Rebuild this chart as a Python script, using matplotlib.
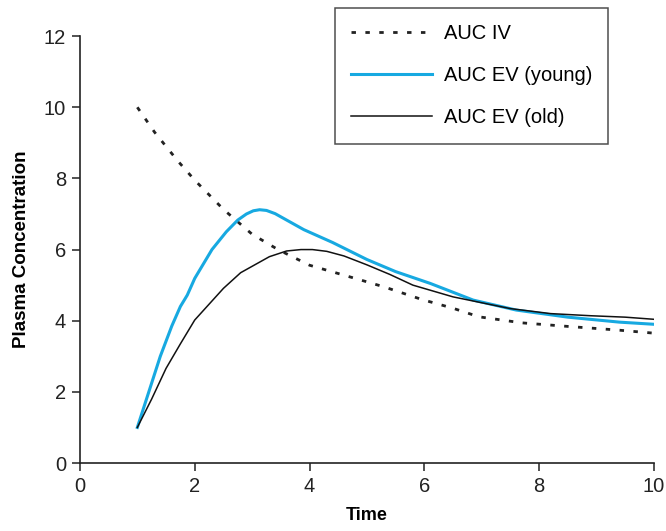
import numpy as np
import matplotlib

matplotlib.use("Agg")
import matplotlib.pyplot as plt

plt.rcParams["font.family"] = ["Liberation Sans", "DejaVu Sans"]

# values
iv_t = [1.0, 1.3, 1.7, 2.0, 2.5, 3.0, 3.45, 4.0, 4.3, 4.9, 5.3, 5.95, 6.5, 6.95, 7.7, 8.5, 9.35, 10.0]
iv_c = [10.0, 9.3, 8.5, 7.95, 7.13, 6.43, 6.0, 5.56, 5.42, 5.14, 4.95, 4.6, 4.35, 4.11, 3.94, 3.84, 3.74, 3.65]

young_t = [1.0, 1.2, 1.4, 1.6, 1.75, 1.87, 2.0, 2.3, 2.55, 2.75, 2.9, 3.02, 3.13, 3.25, 3.4, 3.6, 3.9, 4.4,
           5.0, 5.5, 6.1, 6.85, 7.6, 8.5, 9.4, 10.0]
young_c = [1.0, 2.0, 3.0, 3.85, 4.4, 4.72, 5.19, 6.0, 6.5, 6.83, 7.0, 7.09, 7.12, 7.1, 7.01, 6.83, 6.56, 6.2,
           5.72, 5.38, 5.05, 4.58, 4.3, 4.1, 3.96, 3.9]

old_t = [1.0, 1.25, 1.5, 1.75, 2.0, 2.5, 2.8, 3.3, 3.6, 3.85, 4.05, 4.3, 4.6, 5.0, 5.4, 5.8, 6.5, 7.5, 8.2, 8.9, 9.5, 10.0]
old_c = [1.0, 1.8, 2.66, 3.35, 4.02, 4.91, 5.35, 5.8, 5.96, 6.0, 6.0, 5.95, 5.82, 5.57, 5.3, 5.0, 4.67, 4.34, 4.2, 4.14, 4.1, 4.04]

labels = ["AUC IV", "AUC EV (young)", "AUC EV (old)"]

fig = plt.figure(figsize=(6.66, 5.31), dpi=100)
ax = fig.add_axes([0.120, 0.128, 0.862, 0.804])

ax.plot(iv_t, iv_c, color="#222222", linewidth=2.0, dashes=(1.6, 3.4), label=labels[0])
ax.plot(young_t, young_c, color="#17a9e1", linewidth=2.2, label=labels[1])
ax.plot(old_t, old_c, color="#111111", linewidth=1.1, label=labels[2])

ax.set_xlim(0, 10)
ax.set_ylim(0, 12)
ax.set_xticks([0, 2, 4, 6, 8, 10])
ax.set_yticks([0, 2, 4, 6, 8, 10, 12])
for side in ["top", "right"]:
    ax.spines[side].set_visible(False)
for side in ["left", "bottom"]:
    ax.spines[side].set_linewidth(1.2)
    ax.spines[side].set_color("#222222")
ax.tick_params(direction="out", length=6, width=1.1, labelsize=14.5, colors="#222222", pad=4)

ax.set_xlabel("Time", fontsize=13, fontweight="bold", labelpad=8)
ax.set_ylabel("Plasma Concentration", fontsize=13.5, fontweight="bold", labelpad=10)

leg = fig.legend(
    loc="upper left",
    bbox_to_anchor=(0.503, 0.985),
    borderaxespad=0,
    fontsize=14.5,
    handlelength=4.0,
    handletextpad=0.6,
    labelspacing=1.15,
    borderpad=0.8,
    fancybox=False,
    frameon=True,
)
leg.get_frame().set_edgecolor("#222222")
leg.get_frame().set_linewidth(1.1)

plt.savefig("out.png", dpi=100)
